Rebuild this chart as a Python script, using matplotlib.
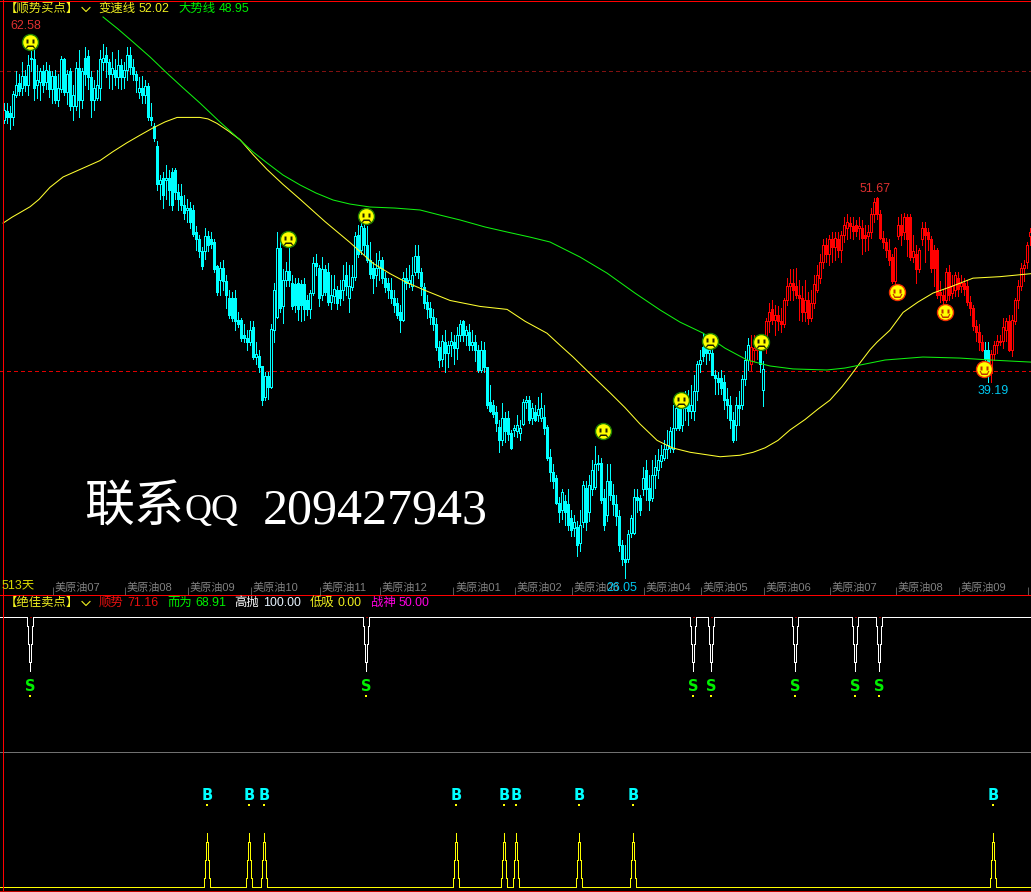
#!/usr/bin/env python
# -*- coding: utf-8 -*-
import matplotlib
matplotlib.use('Agg')
import matplotlib.pyplot as plt
from matplotlib.lines import Line2D
from matplotlib.path import Path

plt.rcParams['font.family'] = ['Liberation Sans', 'Noto Sans CJK SC', 'DejaVu Sans']

# K线 (one bar every 3 px)
opens = [
    56.8, 57.4, 57.3, 57.0, 58.5, 59.3, 59.0, 59.8, 59.2, 61.0,
    60.9, 59.2, 59.4, 60.1, 59.4, 60.1, 58.9, 59.8, 58.2, 58.9,
    60.9, 58.7, 60.1, 57.8, 57.8, 60.3, 58.2, 61.0, 61.1, 59.7,
    58.2, 58.3, 59.0, 60.7, 61.2, 60.7, 59.9, 60.2, 59.7, 60.5,
    59.7, 60.2, 61.2, 60.4, 59.9, 58.7, 59.0, 58.5, 59.1, 57.0,
    56.4, 55.1, 52.5, 52.9, 52.8, 52.9, 53.3, 53.5, 52.0, 51.7,
    51.1, 50.8, 50.9, 50.8, 49.3, 48.8, 48.0, 48.0, 49.0, 48.8,
    48.6, 47.0, 46.1, 46.9, 46.0, 44.9, 44.9, 44.9, 43.4, 43.4,
    42.4, 42.2, 41.9, 42.9, 40.9, 41.0, 40.3, 38.2, 39.6, 38.9,
    42.7, 43.6, 48.2, 44.3, 46.1, 46.7, 45.9, 45.8, 45.9, 45.8,
    45.8, 44.7, 44.1, 45.2, 47.2, 46.9, 45.1, 46.8, 46.6, 44.6,
    45.0, 45.4, 45.4, 45.4, 46.4, 44.9, 45.6, 46.3, 49.1, 48.1,
    49.6, 48.4, 47.4, 46.9, 46.4, 46.9, 47.4, 46.2, 45.9, 45.4,
    44.9, 44.5, 43.9, 43.4, 46.2, 45.9, 45.7, 46.6, 47.7, 46.6,
    45.6, 44.6, 44.2, 43.6, 43.1, 41.6, 40.8, 41.9, 41.2, 41.7,
    41.9, 41.5, 42.4, 43.3, 42.4, 42.6, 41.7, 41.9, 41.4, 40.0,
    41.4, 40.2, 37.9, 37.7, 37.2, 36.2, 35.3, 36.8, 36.8, 35.8,
    36.0, 35.9, 35.8, 36.4, 37.9, 38.0, 36.8, 37.2, 37.0, 36.8,
    36.9, 36.2, 34.2, 33.2, 32.8, 31.1, 30.6, 31.2, 31.0, 30.1,
    29.4, 29.5, 28.4, 29.8, 32.1, 30.5, 32.0, 32.2, 33.7, 33.8,
    31.4, 30.3, 32.6, 31.6, 31.0, 30.2, 28.3, 27.3, 27.3, 29.1,
    29.1, 31.5, 31.4, 32.0, 33.3, 32.1, 31.4, 33.0, 33.3, 33.9,
    34.1, 34.7, 34.8, 34.7, 36.1, 37.5, 36.3, 37.5, 38.0, 37.3,
    37.3, 38.6, 40.4, 41.6, 41.7, 41.2, 41.2, 39.7, 39.5, 39.5,
    39.2, 38.1, 37.7, 36.7, 36.3, 37.7, 37.7, 39.4, 40.7, 40.4,
    41.4, 41.7, 41.4, 38.7, 41.5, 43.3, 44.1, 43.4, 43.7, 43.3,
    43.1, 44.7, 45.7, 45.9, 45.7, 45.1, 44.9, 43.9, 44.7, 43.5,
    44.5, 45.4, 46.2, 47.3, 48.4, 47.8, 48.8, 48.3, 48.8, 48.1,
    49.1, 49.6, 49.9, 49.7, 49.8, 49.6, 49.6, 49.1, 49.0, 49.3,
    50.5, 51.6, 50.5, 48.9, 48.6, 48.1, 47.6, 46.0, 49.0, 49.8,
    49.3, 50.3, 50.3, 47.6, 47.8, 46.8, 48.8, 49.6, 49.3, 48.8,
    48.1, 48.1, 45.3, 45.1, 44.7, 46.6, 45.2, 45.4, 46.2, 45.7,
    45.9, 45.7, 44.6, 44.2, 43.0, 42.6, 41.9, 41.4, 41.4, 39.8,
    41.1, 41.7, 41.9, 42.0, 42.7, 43.3, 41.4, 43.3, 44.7, 45.7,
    46.9, 47.3, 49.0,
]
closes = [
    57.5, 57.0, 57.0, 58.6, 59.2, 58.8, 59.8, 59.2, 60.5, 60.9,
    59.0, 59.5, 60.1, 59.2, 60.2, 58.9, 59.8, 58.2, 59.0, 60.9,
    58.7, 59.9, 57.8, 58.5, 60.3, 58.2, 60.1, 59.9, 59.7, 58.2,
    59.0, 59.2, 60.9, 61.0, 60.7, 59.9, 60.3, 59.7, 60.5, 59.7,
    60.2, 61.2, 60.4, 59.9, 59.5, 59.0, 58.5, 59.1, 57.0, 56.8,
    55.6, 52.5, 52.8, 51.8, 52.9, 52.1, 51.1, 52.0, 51.5, 51.1,
    50.6, 50.9, 50.0, 49.2, 48.8, 48.0, 47.0, 49.0, 48.4, 48.5,
    46.8, 45.3, 46.9, 46.0, 45.1, 43.7, 43.5, 43.3, 43.1, 42.2,
    42.2, 41.9, 42.7, 40.9, 41.1, 40.2, 38.0, 39.6, 38.9, 42.8,
    45.4, 48.2, 44.2, 46.1, 46.7, 46.1, 44.3, 44.4, 44.1, 44.4,
    44.1, 44.1, 45.2, 47.2, 47.0, 44.9, 46.8, 45.3, 44.6, 45.1,
    45.5, 44.5, 44.9, 46.1, 45.7, 45.7, 46.3, 49.0, 47.8, 49.7,
    48.4, 47.4, 46.5, 46.2, 46.9, 47.4, 46.2, 45.6, 45.4, 44.9,
    44.4, 43.7, 43.4, 46.2, 45.9, 46.1, 46.4, 47.7, 46.6, 45.7,
    44.5, 44.1, 43.6, 43.1, 41.6, 40.7, 42.0, 41.2, 41.7, 42.0,
    41.5, 42.4, 43.1, 42.4, 42.7, 41.7, 41.9, 41.4, 40.0, 41.4,
    40.2, 37.7, 37.3, 37.1, 36.5, 35.3, 36.8, 35.9, 35.7, 34.8,
    36.1, 36.3, 36.1, 37.9, 38.0, 36.7, 37.5, 36.7, 37.4, 37.5,
    36.1, 34.1, 33.2, 32.6, 31.1, 30.5, 31.8, 30.5, 29.6, 29.3,
    29.8, 28.3, 29.6, 32.3, 29.8, 32.3, 33.3, 33.7, 33.8, 31.3,
    29.6, 32.6, 31.6, 31.0, 30.2, 28.3, 27.3, 27.1, 29.0, 30.1,
    31.5, 31.3, 30.6, 32.8, 32.0, 31.3, 33.0, 33.5, 34.0, 34.3,
    34.7, 35.0, 35.9, 36.1, 37.5, 36.1, 37.7, 37.8, 37.3, 37.7,
    38.6, 40.4, 40.7, 41.0, 41.2, 41.4, 39.7, 39.5, 39.2, 38.8,
    38.0, 37.7, 36.7, 35.3, 37.7, 37.5, 39.4, 40.7, 41.7, 41.6,
    41.5, 41.4, 40.4, 40.1, 43.3, 43.9, 43.4, 43.7, 43.3, 43.1,
    44.7, 45.7, 45.9, 45.4, 45.1, 44.9, 43.9, 44.7, 43.5, 44.5,
    45.8, 46.4, 47.3, 48.4, 47.8, 48.8, 48.3, 48.9, 48.1, 49.1,
    49.8, 50.0, 49.7, 49.4, 49.4, 49.7, 48.9, 48.9, 49.3, 50.5,
    51.3, 50.5, 48.9, 48.6, 48.1, 47.4, 46.0, 48.2, 49.8, 49.1,
    50.3, 48.8, 47.6, 48.0, 46.8, 48.1, 49.6, 49.1, 48.8, 46.9,
    46.9, 45.1, 45.1, 44.7, 46.6, 45.1, 45.7, 46.4, 45.5, 45.9,
    45.5, 44.6, 44.2, 43.0, 42.6, 41.9, 41.4, 40.8, 40.4, 41.1,
    41.7, 42.0, 42.0, 42.9, 43.3, 41.4, 43.4, 44.7, 45.7, 46.9,
    47.1, 48.4, 49.3,
]
highs = [
    58.0, 58.0, 57.8, 58.8, 60.1, 59.9, 60.7, 60.2, 61.2, 62.58,
    61.7, 60.5, 60.3, 60.5, 60.7, 60.5, 60.1, 60.2, 59.9, 61.1,
    61.0, 60.2, 60.3, 59.2, 60.7, 61.5, 60.3, 61.7, 61.5, 60.1,
    59.5, 60.2, 61.5, 61.9, 61.7, 60.9, 61.4, 60.9, 61.5, 60.9,
    60.7, 61.7, 61.7, 60.9, 60.1, 59.7, 59.8, 59.5, 59.3, 58.0,
    56.6, 55.4, 53.1, 53.3, 53.8, 53.5, 53.6, 53.6, 52.5, 52.5,
    51.8, 51.5, 51.3, 51.1, 49.7, 49.1, 48.3, 49.6, 49.4, 49.3,
    48.8, 47.1, 47.3, 47.4, 46.4, 45.4, 45.3, 45.4, 43.9, 43.5,
    43.1, 42.7, 43.3, 43.3, 41.9, 41.4, 40.3, 39.9, 39.9, 43.1,
    45.9, 49.3, 48.8, 46.8, 47.3, 48.4, 46.4, 46.2, 46.2, 46.1,
    46.2, 45.1, 45.4, 47.6, 47.8, 47.1, 47.6, 47.1, 47.2, 46.4,
    46.4, 45.7, 46.1, 47.1, 47.3, 47.1, 47.1, 49.3, 49.8, 50.0,
    50.0, 49.7, 48.6, 47.3, 47.9, 48.0, 47.6, 46.6, 46.2, 46.2,
    45.4, 44.9, 44.4, 46.6, 46.9, 47.1, 47.6, 48.4, 48.4, 46.9,
    45.9, 45.1, 44.6, 44.1, 43.5, 42.0, 42.4, 42.7, 42.0, 42.6,
    42.4, 42.9, 43.4, 43.4, 43.0, 43.1, 42.7, 42.4, 41.7, 42.0,
    41.9, 40.2, 39.0, 38.0, 37.6, 36.7, 37.8, 37.2, 37.3, 36.0,
    36.3, 37.0, 36.7, 38.1, 38.3, 38.3, 37.8, 37.7, 38.2, 38.5,
    37.7, 36.3, 34.7, 33.7, 33.0, 31.5, 32.0, 31.6, 32.0, 30.6,
    30.3, 29.9, 30.6, 32.6, 32.6, 33.0, 34.0, 34.9, 34.3, 34.1,
    32.0, 33.7, 33.7, 32.4, 31.6, 30.6, 28.6, 28.3, 29.3, 30.3,
    32.0, 32.0, 31.6, 33.5, 34.0, 33.0, 34.0, 34.3, 34.7, 35.0,
    35.3, 36.0, 36.2, 37.7, 37.8, 38.3, 38.0, 38.6, 38.7, 39.0,
    39.7, 40.6, 41.4, 42.5, 42.4, 42.0, 41.7, 40.0, 39.9, 40.0,
    39.7, 38.8, 38.3, 37.2, 38.2, 38.6, 39.7, 41.3, 42.2, 42.4,
    42.4, 42.4, 42.0, 40.6, 43.5, 44.5, 44.7, 44.4, 44.3, 44.2,
    44.9, 46.2, 46.8, 46.8, 46.9, 46.1, 45.7, 46.1, 45.3, 45.4,
    46.4, 47.1, 47.8, 48.8, 48.9, 49.1, 49.3, 49.3, 49.3, 49.4,
    50.3, 50.5, 50.3, 50.3, 50.1, 50.3, 50.1, 49.8, 49.8, 50.9,
    51.6, 51.67, 50.8, 49.4, 48.9, 48.8, 47.8, 48.3, 50.3, 50.5,
    50.6, 50.5, 50.5, 49.1, 48.4, 48.2, 50.0, 50.0, 49.6, 49.0,
    48.4, 48.2, 46.0, 45.4, 46.9, 47.1, 46.4, 46.6, 46.6, 46.4,
    46.2, 46.1, 45.0, 44.4, 43.4, 43.1, 42.4, 41.9, 41.9, 41.4,
    42.0, 42.4, 42.4, 43.5, 43.5, 43.7, 43.7, 44.9, 46.1, 47.2,
    47.4, 48.6, 49.6,
]
lows = [
    56.6, 56.6, 56.2, 56.5, 58.4, 58.5, 58.5, 58.8, 58.5, 60.1,
    58.2, 58.3, 58.2, 58.7, 58.9, 58.4, 58.0, 58.0, 57.8, 58.7,
    58.5, 57.9, 57.5, 56.8, 57.5, 57.0, 57.6, 59.2, 58.9, 57.0,
    57.5, 58.2, 58.2, 60.2, 59.7, 59.0, 58.9, 59.2, 59.0, 58.9,
    59.0, 59.5, 59.9, 59.5, 58.7, 58.3, 58.0, 58.0, 56.8, 56.5,
    55.4, 52.1, 51.5, 50.9, 51.5, 51.1, 50.8, 51.5, 50.8, 50.8,
    50.2, 50.0, 49.6, 49.0, 48.1, 47.6, 46.8, 47.5, 48.0, 48.2,
    46.6, 45.1, 45.1, 45.4, 44.2, 43.5, 43.3, 42.7, 42.9, 42.0,
    41.9, 41.4, 41.7, 40.8, 40.4, 39.9, 37.7, 38.0, 38.1, 38.8,
    41.9, 43.5, 43.9, 43.2, 45.7, 45.7, 44.1, 43.9, 43.4, 43.3,
    43.4, 43.7, 43.5, 45.1, 46.4, 44.3, 44.7, 45.1, 44.4, 44.1,
    44.5, 44.1, 44.4, 44.7, 45.1, 43.9, 45.4, 46.1, 47.6, 47.8,
    47.8, 47.3, 46.2, 45.2, 45.7, 46.1, 45.9, 45.3, 44.9, 44.5,
    43.9, 43.5, 42.6, 43.3, 45.5, 45.6, 45.4, 46.4, 46.2, 45.1,
    44.2, 43.5, 43.1, 42.7, 41.4, 40.2, 40.3, 39.9, 40.2, 41.0,
    40.4, 40.8, 42.0, 42.0, 41.7, 41.4, 41.4, 40.6, 39.9, 39.9,
    39.9, 37.5, 37.2, 36.9, 35.9, 34.5, 35.0, 35.2, 35.3, 34.7,
    35.6, 35.5, 35.3, 36.3, 37.5, 36.5, 36.4, 36.6, 36.6, 36.6,
    35.7, 34.0, 32.6, 32.1, 31.0, 29.8, 30.0, 29.6, 29.3, 28.9,
    28.9, 27.5, 27.9, 29.5, 29.3, 29.9, 31.6, 32.0, 33.3, 31.1,
    29.3, 29.9, 31.3, 30.3, 29.6, 27.9, 26.9, 26.05, 27.1, 28.8,
    29.0, 30.5, 30.3, 31.6, 31.3, 30.6, 31.2, 32.1, 32.8, 33.5,
    34.0, 34.1, 34.5, 34.5, 36.0, 36.0, 35.9, 36.7, 36.3, 36.8,
    36.7, 38.0, 39.9, 40.6, 40.4, 40.7, 39.7, 38.4, 38.4, 38.4,
    37.4, 36.8, 36.1, 35.2, 35.3, 36.3, 37.4, 39.0, 40.0, 40.0,
    40.6, 40.8, 39.9, 37.6, 41.2, 42.6, 43.1, 42.4, 42.7, 42.6,
    42.9, 44.4, 44.7, 44.7, 44.9, 43.4, 43.3, 43.3, 43.1, 43.3,
    44.2, 45.3, 45.9, 46.9, 47.3, 47.1, 47.3, 47.4, 47.6, 47.3,
    48.6, 48.8, 48.9, 48.8, 49.0, 48.8, 47.8, 48.0, 48.1, 48.9,
    50.0, 50.2, 48.8, 48.2, 47.6, 47.1, 45.9, 45.9, 48.8, 48.4,
    48.8, 47.7, 47.4, 47.3, 45.9, 46.6, 48.4, 47.3, 48.1, 46.6,
    45.7, 44.9, 44.6, 44.4, 44.6, 44.7, 44.9, 45.0, 45.0, 45.3,
    45.1, 44.4, 43.7, 42.7, 42.0, 41.4, 41.3, 40.6, 39.2, 39.19,
    40.7, 41.2, 41.7, 41.5, 42.0, 41.3, 41.0, 43.1, 44.2, 45.4,
    46.0, 46.9, 48.4,
]
red_spans = [(249, 251), (254, 326), (329, 342)]

# 变速线 / 大势线
fast_idx = [-0.3, 2.7, 5.3, 8.7, 11.7, 15.3, 19.7, 25.3, 32, 36.3, 41, 45.3, 49.7, 53.7, 57.7, 61.3,
            65.3, 68, 71, 74.7, 78.7, 83, 87.7, 93, 98.7, 107, 115.3, 123, 128.7, 134.3, 141.3,
            148.7, 158.7, 167.7, 173.7, 181, 185.3, 189.7, 196.3, 202, 207, 212, 217.7, 222.7,
            228.7, 238.7, 245.3, 249.7, 253.7, 258, 262, 267, 271.3, 275.3, 279.3, 282, 285.3,
            288.7, 291, 295.3, 299.7, 304.7, 309.7, 315.3, 323, 332, 342.3]
fast_val = [49.9, 50.3, 50.6, 51.0, 51.5, 52.3, 53.0, 53.5, 54.1, 54.7, 55.3, 55.8, 56.3, 56.7, 57.0, 57.0,
            57.0, 56.9, 56.6, 56.1, 55.5, 54.5, 53.5, 52.5, 51.5, 50.0, 48.6, 47.2, 46.5, 45.9, 45.3,
            44.7, 44.3, 44.1, 43.3, 42.5, 41.7, 40.9, 39.6, 38.5, 37.5, 36.4, 35.3, 34.8,
            34.5, 34.2, 34.3, 34.5, 34.8, 35.3, 36.0, 36.7, 37.4, 38.0, 38.9, 39.6, 40.5,
            41.4, 41.9, 42.7, 43.9, 44.6, 45.2, 45.6, 46.2, 46.3, 46.5]
slow_idx = [33, 38, 43, 48.7, 54.3, 59.7, 65.3, 72, 78.7, 83, 87.7, 93, 98.7, 104, 109.7, 115.3, 122,
            130.3, 138.7, 145.3, 152, 160.3, 167.7, 175.3, 182, 192, 201, 210.3, 218.7, 225.3, 233,
            240.3, 247.7, 255.3, 263, 274.3, 280.3, 285.3, 293.7, 306.3, 318.7, 328.7, 342.3]
slow_val = [63.75, 62.94, 62.07, 61.06, 59.98, 58.98, 57.97, 56.69, 55.48, 54.68, 53.94, 53.13, 52.46,
            51.92, 51.45, 51.18, 50.98, 50.91, 50.78, 50.44, 50.11, 49.64, 49.3, 48.96, 48.63, 47.62,
            46.54, 45.2, 44.06, 43.25, 42.51, 41.5, 40.7, 40.3, 40.1, 40.03, 40.16, 40.36, 40.7, 40.9,
            40.83, 40.7, 40.56]

frown_idx = [8.7, 94.7, 120.7, 199.7, 225.7, 235.3, 252.3]
frown_val = [62.1, 48.8, 50.4, 35.9, 38.0, 42.0, 41.9]
smile_idx = [297.7, 313.7, 326.7]
smile_val = [45.3, 43.9, 40.1]

ref_levels = [60.1, 39.96]

month_ticks = [16.3, 40.3, 61.3, 82.3, 105.3, 125.3, 149.7, 170.3, 189.3, 213.3, 232.3, 253.3, 275.3,
               297.3, 318.3, 341.3]
month_labels = ['美原油07', '美原油08', '美原油09', '美原油10', '美原油11', '美原油12', '美原油01', '美原油02',
                '美原油03', '美原油04', '美原油05', '美原油06', '美原油07', '美原油08', '美原油09']

# 绝佳卖点
sell_idx = [8.8, 120.8, 229.8, 235.8, 263.8, 283.8, 291.8]
buy_idx = [67.8, 81.8, 86.8, 150.8, 166.8, 170.8, 191.8, 209.8, 329.8]
spike_dx = [-1, -1, -2/3, -2/3, -1/3, -1/3, 0, 0, 0, 1/3, 1/3, 2/3, 2/3, 1, 1]
spike_dy = [0, 3.3, 3.3, 10, 10, 16.7, 16.7, 20, 16.7, 16.7, 10, 10, 3.3, 3.3, 0]

W, H = 1031, 892
YELLOW = '#f0f020'
CYAN = '#00ffff'
RED = '#ff0000'
GREEN = '#00f000'
X_MIN, X_MAX = -4 / 3, 1027 / 3
THIN = 0.5
FRAME = 0.72


def px(x, y):
    return x / W, 1 - y / H


def label(x, y, s, color, size=8.9, **kw):
    fx, fy = px(x, y)
    fig.text(fx, fy, s, color=color, fontsize=size, va='center', ha=kw.pop('ha', 'left'), **kw)


def hline(y, color, x0=0, x1=W, lw=FRAME, **kw):
    fig.add_artist(Line2D([x0 / W, x1 / W], [1 - y / H] * 2, color=color, lw=lw, antialiased=False, **kw))


def face_marker(mood):
    # 16 x 16 px face features, in pixels from the centre
    polys = [[(8, 0), (8, 0), (8, 0)],
             [(-4, -3), (-2, -3), (-2, 1), (-4, 1)],
             [(2, -3), (4, -3), (4, 1), (2, 1)]]
    if mood == 'frown':
        polys.append([(-3, 3), (3, 3), (5, 6), (3.6, 6), (2.5, 4.5), (-2.5, 4.5), (-3.6, 6), (-5, 6)])
    else:
        polys.append([(-5, 1.5), (-3.8, 1.5), (-2.5, 4), (2.5, 4), (3.8, 1.5), (5, 1.5), (3, 5.5), (-3, 5.5)])
    verts, codes = [], []
    for p in polys:
        q = [(a / 8, -b / 8) for a, b in p]
        verts += q + [q[0]]
        codes += [Path.MOVETO] + [Path.LINETO] * (len(q) - 1) + [Path.CLOSEPOLY]
    return Path(verts, codes)


def draw_faces(ax, xs, ys, mood, edge):
    ax.plot(xs, ys, ls='none', marker='o', ms=11.5, mfc='#ffff00', mec=edge, mew=1.0, zorder=6, clip_on=False)
    ax.plot(xs, ys, ls='none', marker=face_marker(mood), ms=11.5, mfc='#202000' if mood == 'frown' else '#c03000',
            mew=0, zorder=7)


def draw_candles(ax):
    red_bars = set()
    for a, b in red_spans:
        red_bars.update(range(a, b + 1))
    for i in range(len(closes)):
        color = RED if i in red_bars else CYAN
        ax.vlines(i, lows[i], highs[i], color=color, lw=THIN, antialiased=False, zorder=2)
        bottom = min(opens[i], closes[i])
        height = max(abs(closes[i] - opens[i]), 0.05)
        face = 'black' if closes[i] > opens[i] else color
        ax.bar(i, height, bottom=bottom, width=0.9, facecolor=face, edgecolor=color, lw=THIN,
               antialiased=False, zorder=3)


def spike_line(events, base, sign):
    xs, ys = [X_MIN], [base]
    for e in events:
        xs += [e + d for d in spike_dx]
        ys += [base + sign * d for d in spike_dy]
    xs.append(X_MAX)
    ys.append(base)
    return xs, ys


fig = plt.figure(figsize=(W / 100, H / 100), dpi=100, facecolor='black')

# main panel
ax = fig.add_axes([0, 297 / H, 1, 595 / H], facecolor='black')
ax.set_xlim(X_MIN, X_MAX)
ax.set_ylim(24.91, 64.89)
for s in ax.spines.values():
    s.set_visible(False)
ax.set_yticks([])
ax.set_xticks(month_ticks)
ax.set_xticklabels([])
ax.tick_params(axis='x', direction='in', length=6, width=THIN, color='#808080')

for lev, c in zip(ref_levels, ['#801010', '#e00000']):
    ax.axhline(lev, color=c, lw=FRAME, dashes=(4, 3), antialiased=False, zorder=1)
draw_candles(ax)
ax.plot(fast_idx, fast_val, color='#ffff30', lw=0.75, zorder=4)
ax.plot(slow_idx, slow_val, color='#10f010', lw=0.75, zorder=4)
draw_faces(ax, frown_idx, frown_val, 'frown', '#208000')
draw_faces(ax, smile_idx, smile_val, 'smile', '#f03000')

for x, lab in zip(month_ticks, month_labels):
    ax.annotate(lab, (x, 24.91), xytext=(2, 1.5), textcoords='offset pixels', color='#808080', fontsize=8.0,
                va='bottom', ha='left', annotation_clip=False)

# lower panel
ax2 = fig.add_axes([0, 0, 1, 297 / H], facecolor='black')
ax2.set_xlim(X_MIN, X_MAX)
ax2.set_ylim(-1.85, 108.0)
ax2.axis('off')
ax2.axhline(50, color='#707070', lw=THIN, antialiased=False)
xs, ys = spike_line(sell_idx, 100, -1)
ax2.plot(xs, ys, color='white', lw=THIN, antialiased=False, zorder=3)
xs, ys = spike_line(buy_idx, 0, 1)
ax2.plot(xs, ys, color='#ffff00', lw=THIN, antialiased=False, zorder=3)
for e in sell_idx:
    ax2.plot([e - 0.3, e + 0.3], [100, 100], color='#a00000', lw=THIN, antialiased=False, zorder=2)
    ax2.text(e, 74, 'S', color='#00f000', fontsize=10.5, fontweight='bold', ha='center', va='center',
             family='DejaVu Sans')
    ax2.plot(e, 70.7, ls='none', marker='s', ms=1.5, color='#ffff00', mew=0)
for e in buy_idx:
    ax2.text(e, 34, 'B', color=CYAN, fontsize=10.5, fontweight='bold', ha='center', va='center',
             family='DejaVu Sans')
    ax2.plot(e, 30.3, ls='none', marker='s', ms=1.5, color='#ffff00', mew=0)

# frame
fig.add_artist(Line2D([2.5 / W] * 2, [0, 1], color='#ff0000', lw=FRAME, antialiased=False))
hline(0.5, '#ff0000')
hline(594.5, '#ff0000')
hline(890.5, '#c00000')

# header texts
for y in (9, 603):
    fx0, fy0 = px(82, y - 1.5)
    fx1, fy1 = px(86, y + 2.5)
    fx2, fy2 = px(90, y - 1.5)
    fig.add_artist(Line2D([fx0, fx1, fx2], [fy0, fy1, fy2], color=YELLOW, lw=0.8))

label(5, 9, '【顺势买点】', YELLOW)
label(98, 9, '变速线', YELLOW)
label(139, 9, '52.02', YELLOW)
label(178, 9, '大势线', GREEN)
label(219, 9, '48.95', GREEN)

label(5, 603, '【绝佳卖点】', YELLOW)
label(99, 603, '顺势', '#e81010')
label(127, 603, '71.16', '#e81010')
label(167, 603, '而为', GREEN)
label(195, 603, '68.91', GREEN)
label(234, 603, '高抛', 'white')
label(263, 603, '100.00', '#e8f4ff')
label(310, 603, '低吸', YELLOW)
label(338, 603, '0.00', YELLOW)
label(371, 603, '战神', '#ff00e0')
label(399, 603, '50.00', '#ff00e0')
label(2, 585, '513天', '#d8d800')

# price labels
label(10, 26, '62.58', '#e03030', ha='left')
label(875, 189, '51.67', '#e03030', ha='center')
label(993, 391, '39.19', '#00c8f0', ha='center')
label(622, 588, '26.05', '#00c8f0', ha='center')

# watermark
serif = ['Liberation Serif', 'Noto Sans CJK SC']
label(84, 509, '联系', 'white', size=36, family=serif)
label(185, 511, 'QQ', 'white', size=27, family=serif)
label(263, 511, '209427943', 'white', size=36, family=serif)

fig.savefig('out.png', dpi=100, facecolor='black')
